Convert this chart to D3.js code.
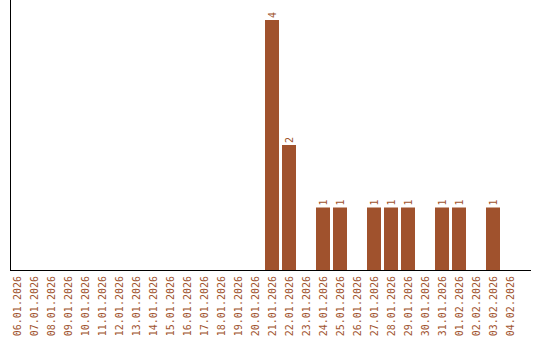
<!DOCTYPE html>
<html>
<head>
<meta charset="utf-8">
<script src="https://cdn.jsdelivr.net/npm/d3@7"></script>
<style>
  body { margin: 0; background: #fff; }
  svg { display: block; }
</style>
</head>
<body>
<svg id="mysvg" width="540" height="340"></svg>
<script>
// dates on the x axis
var dates = ["06.01.2026","07.01.2026","08.01.2026","09.01.2026","10.01.2026",
  "11.01.2026","12.01.2026","13.01.2026","14.01.2026","15.01.2026",
  "16.01.2026","17.01.2026","18.01.2026","19.01.2026","20.01.2026",
  "21.01.2026","22.01.2026","23.01.2026","24.01.2026","25.01.2026",
  "26.01.2026","27.01.2026","28.01.2026","29.01.2026","30.01.2026",
  "31.01.2026","01.02.2026","02.02.2026","03.02.2026","04.02.2026"];
// counts per date
var counts = [0,0,0,0,0, 0,0,0,0,0, 0,0,0,0,0,
  4,2,0,1,1, 0,1,1,1,0, 1,1,0,1,0];

var mydata = [];
for (var i=0; i<dates.length; i++){
  mydata.push({x:dates[i], y:counts[i]});
}

var barColor = "#A0522D";

var svg = d3.select("svg"),
    left = 10, right = 530, top = 10, bottom = 270;

var x = d3.scaleBand()
    .domain(dates)
    .range([left, left + 17 * (dates.length - 3/17)])
    .paddingInner(3/17)
    .paddingOuter(0);

var y = d3.scaleLinear()
    .domain([0, 4])
    .range([bottom, 20]);

// bars
svg.selectAll(".bar")
  .data(mydata.filter(function(d){ return d.y > 0; }))
  .enter().append("rect")
    .attr("class", "bar")
    .attr("x", function(d) { return x(d.x); })
    .attr("y", function(d) { return y(d.y); })
    .attr("width", x.bandwidth())
    .attr("height", function(d) { return y(0) - y(d.y); })
    .attr("fill", barColor);

// value labels on top of bars
svg.selectAll(".val")
  .data(mydata.filter(function(d){ return d.y > 0; }))
  .enter().append("text")
    .attr("class", "val")
    .attr("transform", function(d){
      return "translate(" + (x(d.x) + x.bandwidth()/2) + "," + (y(d.y) - 2) + ")rotate(-90)";
    })
    .attr("dy", "0.35em")
    .attr("text-anchor", "start")
    .style("font-family", "DejaVu Sans Mono")
    .style("font-size", "10px")
    .style("fill", barColor)
    .text(function(d){ return d.y; });

// axes
svg.append("line")
    .attr("x1", left + 0.5).attr("x2", left + 0.5)
    .attr("y1", top).attr("y2", bottom)
    .attr("stroke", "#000");

svg.append("line")
    .attr("x1", left).attr("x2", right + 1)
    .attr("y1", bottom + 0.5).attr("y2", bottom + 0.5)
    .attr("stroke", "#000");

// date labels
svg.selectAll(".xlab")
  .data(dates)
  .enter().append("text")
    .attr("class", "xlab")
    .attr("transform", function(d){
      return "translate(" + (x(d) + x.bandwidth()/2) + "," + (bottom + 6) + ")rotate(-90)";
    })
    .attr("dy", "0.35em")
    .attr("text-anchor", "end")
    .style("font-family", "DejaVu Sans Mono")
    .style("font-size", "10px")
    .style("fill", barColor)
    .text(function(d){ return d; });
</script>
</body>
</html>
